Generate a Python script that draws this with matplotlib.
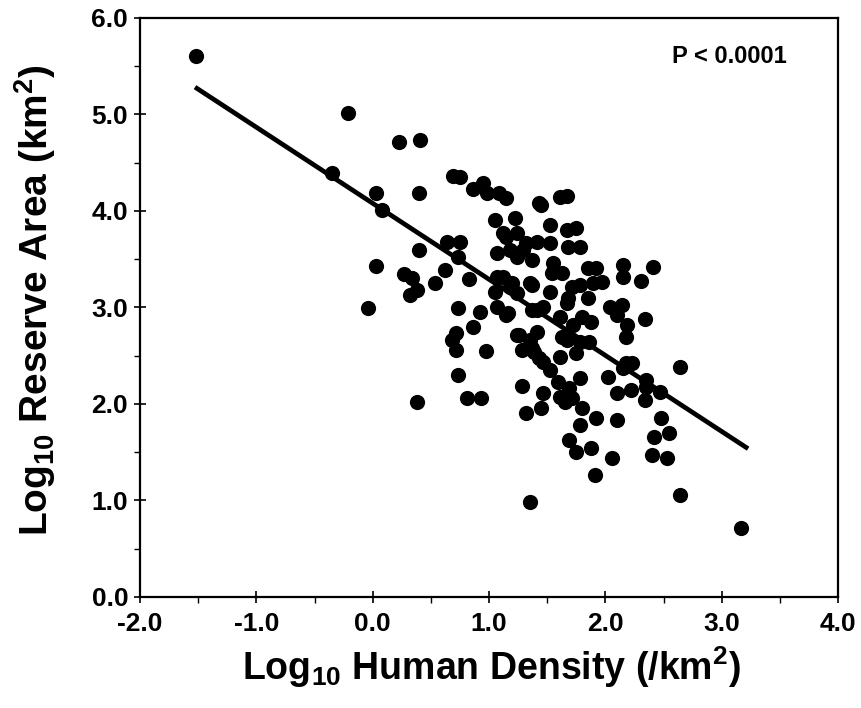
import matplotlib
matplotlib.use('Agg')
import matplotlib.pyplot as plt
from matplotlib.ticker import MultipleLocator, FormatStrFormatter
import numpy as np

plt.rcParams['font.family'] = ['Liberation Sans', 'DejaVu Sans']
plt.rcParams['font.weight'] = 'bold'
plt.rcParams['mathtext.fontset'] = 'custom'
plt.rcParams['mathtext.rm'] = 'Liberation Sans:bold'
plt.rcParams['mathtext.bf'] = 'Liberation Sans:bold'
plt.rcParams['mathtext.default'] = 'bf'
plt.rcParams['axes.unicode_minus'] = False

# log10 human density (/km2) and log10 reserve area (km2)
log_density = [
    -1.52, -0.21, -0.35, 0.23, 0.41, 0.03, 0.08, 0.40, 0.40, 0.03,
    0.27, 0.34, 0.54, 0.32, 0.38, -0.04, 0.69, 0.75, 0.86, 0.95,
    0.98, 1.09, 1.15, 1.43, 1.05, 1.22, 1.12, 0.64, 0.75, 0.73,
    1.07, 1.18, 1.32, 1.37, 0.62, 0.83, 1.07, 1.05, 1.18, 1.35,
    0.73, 0.92, 1.07, 1.15, 1.41, 0.72, 0.86, 0.68, 1.24, 1.35,
    1.45, 1.61, 1.67, 1.52, 1.67, 1.75, 1.15, 1.24, 1.41, 1.52,
    1.68, 1.78, 1.29, 1.55, 1.54, 1.63, 1.85, 1.92, 1.97, 2.15,
    2.15, 2.41, 2.31, 1.20, 1.37, 1.24, 1.52, 1.71, 1.78, 1.89,
    1.68, 1.85, 1.16, 1.37, 1.46, 1.61, 1.80, 1.88, 2.04, 2.14,
    2.10, 2.19, 2.34, 2.18, 1.26, 1.41, 1.67, 1.78, 1.63, 1.86,
    0.97, 1.28, 1.39, 1.61, 1.75, 1.46, 1.52, 1.59, 1.78, 2.02,
    2.18, 2.23, 2.15, 2.64, 1.28, 1.46, 1.61, 1.69, 1.65, 1.71,
    1.45, 1.32, 1.80, 2.10, 2.22, 2.35, 2.47, 2.34, 1.92, 2.10,
    1.78, 2.48, 1.69, 1.75, 1.88, 2.42, 2.55, 2.40, 2.53, 2.06,
    1.91, 1.35, 2.64, 3.17, 0.72, 0.73, 0.38, 0.81, 0.93, 1.37,
    1.43, 1.24, 1.67, 1.72, 2.35, 1.12,
]
log_area = [
    5.61, 5.02, 4.39, 4.71, 4.74, 4.19, 4.01, 4.19, 3.60, 3.43,
    3.35, 3.31, 3.25, 3.13, 3.18, 2.99, 4.36, 4.35, 4.23, 4.29,
    4.19, 4.19, 4.13, 4.08, 3.91, 3.93, 3.77, 3.68, 3.68, 3.52,
    3.56, 3.60, 3.67, 3.49, 3.39, 3.30, 3.32, 3.16, 3.21, 3.25,
    2.99, 2.95, 3.00, 2.92, 2.97, 2.74, 2.80, 2.66, 2.72, 2.66,
    4.06, 4.15, 4.16, 3.85, 3.80, 3.82, 3.73, 3.77, 3.68, 3.67,
    3.63, 3.63, 3.60, 3.46, 3.36, 3.36, 3.41, 3.41, 3.26, 3.44,
    3.32, 3.42, 3.27, 3.25, 3.23, 3.15, 3.16, 3.21, 3.23, 3.25,
    3.10, 3.10, 2.94, 2.97, 3.00, 2.90, 2.90, 2.85, 3.00, 3.03,
    2.92, 2.82, 2.88, 2.69, 2.72, 2.75, 2.66, 2.64, 2.69, 2.64,
    2.55, 2.56, 2.54, 2.49, 2.53, 2.44, 2.35, 2.23, 2.27, 2.28,
    2.42, 2.42, 2.37, 2.38, 2.19, 2.11, 2.07, 2.17, 2.02, 2.06,
    1.96, 1.91, 1.96, 2.11, 2.15, 2.18, 2.12, 2.04, 1.85, 1.83,
    1.78, 1.85, 1.63, 1.50, 1.54, 1.66, 1.70, 1.47, 1.44, 1.44,
    1.26, 0.98, 1.06, 0.72, 2.56, 2.30, 2.02, 2.06, 2.06, 2.58,
    2.48, 3.52, 3.05, 2.82, 2.25, 3.32,
]

# regression line end points
fit_x = [-1.51, 3.21]
fit_y = [5.27, 1.55]

fig = plt.figure(figsize=(8.62, 7.08), dpi=100)
ax = fig.add_axes([0.1624, 0.1568, 0.8098, 0.8178])

ax.scatter(log_density, log_area, s=120, color='black', zorder=3, linewidths=0)
ax.plot(fit_x, fit_y, color='black', linewidth=3.4, zorder=2)

ax.text(2.57, 5.6, 'P < 0.0001', fontsize=17, fontweight='bold', ha='left', va='center')

ax.set_xlim(-2.0, 4.0)
ax.set_ylim(0.0, 6.0)
ax.xaxis.set_major_locator(MultipleLocator(1.0))
ax.xaxis.set_minor_locator(MultipleLocator(0.5))
ax.yaxis.set_major_locator(MultipleLocator(1.0))
ax.yaxis.set_minor_locator(MultipleLocator(0.5))
ax.xaxis.set_major_formatter(FormatStrFormatter('%.1f'))
ax.yaxis.set_major_formatter(FormatStrFormatter('%.1f'))

ax.tick_params(which='major', direction='inout', length=9, width=1.2, labelsize=19)
ax.tick_params(axis='x', which='major', pad=6)
ax.tick_params(axis='y', which='major', pad=4)
ax.tick_params(which='minor', direction='out', length=4, width=1.0)
for lab in ax.get_xticklabels() + ax.get_yticklabels():
    lab.set_fontweight('bold')

for sp in ax.spines.values():
    sp.set_linewidth(1.6)

ax.set_xlabel(r'Log$_{10}$ Human Density (/km$^{2}$)', fontsize=27, fontweight='bold')
ax.set_ylabel(r'Log$_{10}$ Reserve Area (km$^{2}$)', fontsize=28, fontweight='bold')
ax.xaxis.set_label_coords(0.503, -0.082)
ax.yaxis.set_label_coords(-0.118, 0.513)

fig.savefig('out.png', dpi=100)
